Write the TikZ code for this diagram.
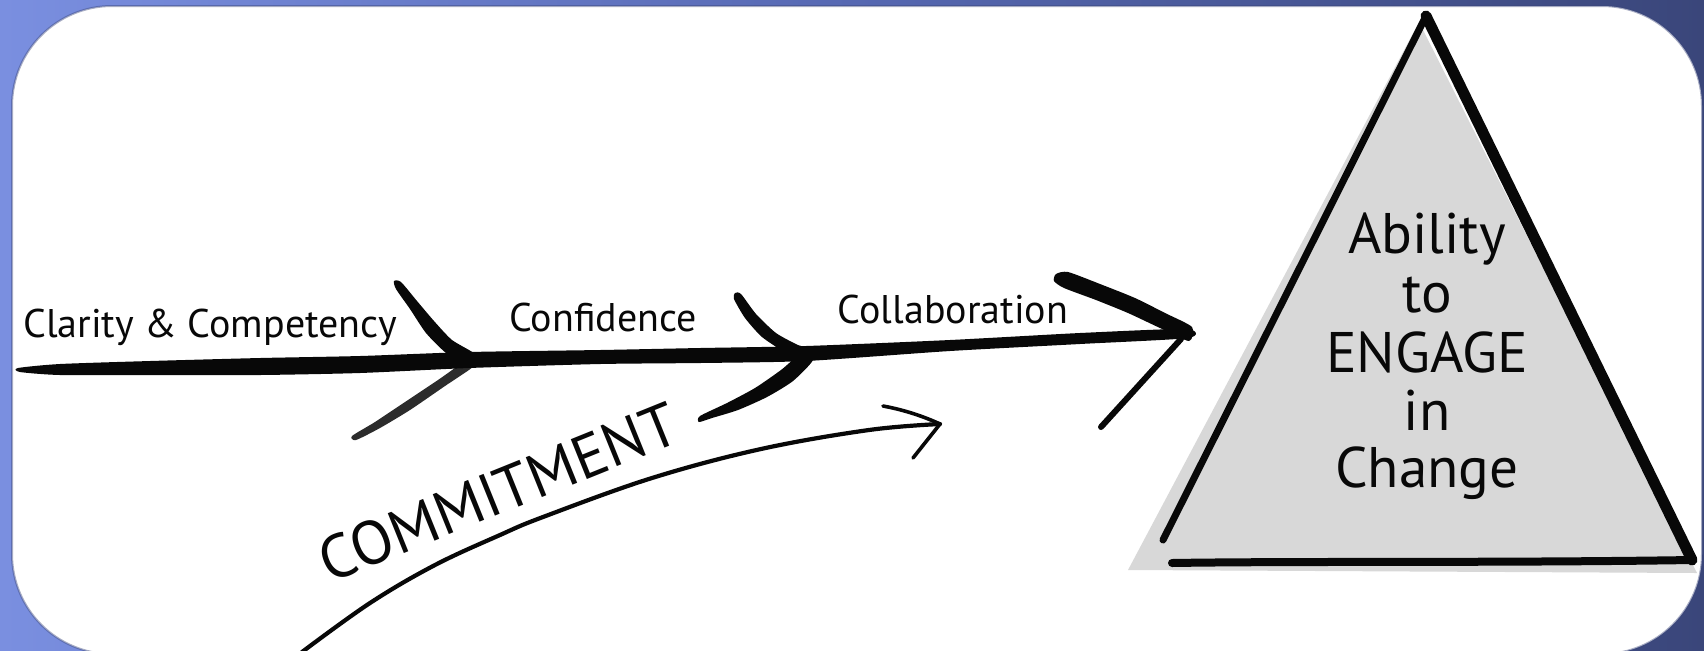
\documentclass[tikz,border=0pt]{standalone}
\usepackage{fontspec}
\setmainfont{PT Sans}
\definecolor{bgL}{RGB}{122,143,224}
\definecolor{bgM}{RGB}{86,104,178}
\definecolor{bgR}{RGB}{58,70,122}
\definecolor{trigray}{RGB}{216,216,216}
\definecolor{ink}{RGB}{8,8,8}
\tikzset{
  lbl/.style={inner sep=0pt, anchor=base, text=ink, font=\fontsize{20pt}{24pt}\selectfont},
  tri/.style={inner sep=0pt, anchor=base, text=ink, font=\fontsize{28.6pt}{32pt}\selectfont},
  brush/.style={fill=ink},
  thinpen/.style={draw=ink, line width=2.1pt, line cap=round, line join=round},
}
\begin{document}
\begin{tikzpicture}[x=0.5pt,y=-0.5pt]
\useasboundingbox (0,0) rectangle (1704,650);
% background
\shade[left color=bgL, right color=bgR, middle color=bgM] (0,0) rectangle (1704,650);
\fill[white, rounded corners=50pt] (12,6) rectangle (1702,654);
\draw[bgR, opacity=.45, line width=1pt, rounded corners=50pt] (12,6) rectangle (1702,654);

% key points
\coordinate (start) at (20,370);
\coordinate (ap1) at (469,360);
\coordinate (ap2) at (806,353);
\coordinate (tip) at (1185,334);
\coordinate (cstart) at (302,652);
\coordinate (ctip) at (940,424);

% main shaft
\fill[brush] plot[smooth cycle, tension=0.4] coordinates {(18,368) (60,364) (150,361) (260,358) (360,356) (469,352) (600,350) (700,348) (806,346) (950,340) (1080,333) (1186,329) (1188,338) (1080,344) (950,351) (806,361) (700,363) (600,364) (469,368) (360,373) (260,375) (150,375) (60,375) (20,372)};

% chevron 1
\fill[brush] plot[smooth cycle, tension=0.4] coordinates {(394,281) (401,282) (417,301) (434,321) (452,340) (476,355) (468,367) (446,353) (426,333) (410,309) (396,289)};
\fill[brush, opacity=.85] plot[smooth cycle, tension=0.4] coordinates {(466,361) (474,366) (445,386) (410,410) (380,428) (356,440) (352,436) (375,422) (405,402) (438,380)};

% chevron 2
\fill[brush] plot[smooth cycle, tension=0.4] coordinates {(735,293) (741,294) (756,314) (776,333) (798,345) (813,350) (806,363) (786,353) (762,337) (745,318) (734,299)};
\fill[brush] plot[smooth cycle, tension=0.4] coordinates {(802,353) (813,360) (793,381) (767,397) (738,410) (712,418) (699,422) (700,416) (727,403) (755,388) (781,370)};

% arrow head
\fill[brush] plot[smooth cycle, tension=0.4] coordinates {(1056,274) (1068,272) (1100,284) (1135,298) (1165,313) (1192,327) (1189,341) (1160,328) (1128,313) (1096,300) (1064,288) (1054,281)};
\draw[draw=ink, line width=3pt, line cap=round] (tip) ++(-4,5) -- (1101,427);

% commitment arrow
\draw[thinpen] plot[smooth, tension=0.6] coordinates {(cstart) (370,603) (435,565) (500,535) (543,517) (652,478) (761,449) (869,430) (ctip)};
\draw[thinpen, line width=1.8pt] (883,406) .. controls (905,410) and (925,417) .. (ctip) -- (913,458);

% triangle
\coordinate (tA) at (1426,16);
\coordinate (tL) at (1163,540);
\coordinate (tR) at (1692,560);
\fill[trigray] (1419,22) -- (1128,570) -- (1697,573) -- cycle;
\draw[ink, line width=3.5pt, line cap=round] (tA) -- (tL);
\draw[ink, line width=5.5pt, line cap=round] (tA) -- (tR);
\draw[ink, line width=4pt, line cap=round] (1172,563) .. controls (1300,561) and (1500,563) .. (tR);

% labels
\node[lbl] (l1) at (210,337) {Clarity \& Competency};
\node[lbl] (l2) at (603,331) {Confidence};
\node[lbl] (l3) at (953,323) {Collaboration};
\node[lbl, font=\fontsize{30.7pt}{34pt}\selectfont, rotate=22] (l4) at (506,512) {COMMITMENT};

\node[tri] (g1) at (1427,253) {Ability};
\node[tri] (g2) at (1427,312) {to};
\node[tri] (g3) at (1427,372) {ENGAGE};
\node[tri] (g4) at (1427,430) {in};
\node[tri] (g5) at (1427,487) {Change};
\end{tikzpicture}
\end{document}
